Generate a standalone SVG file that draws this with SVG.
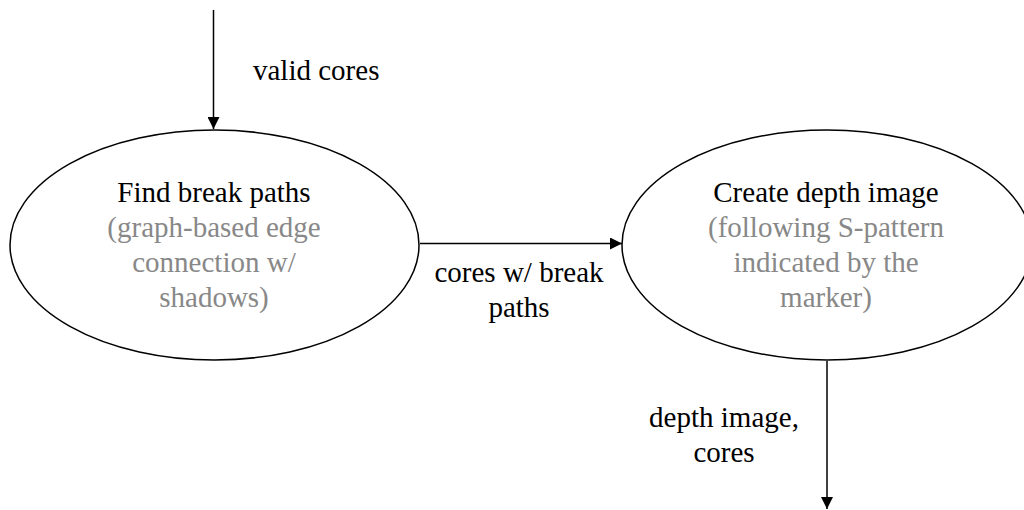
<svg xmlns="http://www.w3.org/2000/svg" width="1024" height="510" viewBox="0 0 1024 510">
<defs>
<marker id="ah" markerWidth="12" markerHeight="12" refX="12" refY="6" orient="auto" markerUnits="userSpaceOnUse">
<path d="M0,0 L12,6 L0,12 Z" fill="#000"/>
</marker>
<style>
.t{font-family:'Liberation Serif','Times New Roman',Times,'DejaVu Serif',serif;font-size:29px;fill:#000;text-anchor:middle}
.g{fill:#888}
.n{fill:#fff;stroke:#000;stroke-width:1.5}
.c{stroke:#000;stroke-width:1.5;fill:none;marker-end:url(#ah)}
</style>
</defs>
<rect width="1024" height="510" fill="#fff"/>
<g id="connectors">
<line class="c" x1="213.5" y1="10" x2="213.5" y2="129"/>
<line class="c" x1="420" y1="243.5" x2="622" y2="243.5"/>
<line class="c" x1="827" y1="361" x2="827" y2="509"/>
<text class="t" x="253" y="80" style="text-anchor:start">valid cores</text>
<text class="t" x="519" y="282">cores w/ break</text>
<text class="t" x="519" y="317">paths</text>
<text class="t" x="724" y="427">depth image,</text>
<text class="t" x="724" y="462">cores</text>
</g>
<g id="find">
<ellipse class="n" cx="214.5" cy="245" rx="204.5" ry="115"/>
<text class="t" x="214" y="202">Find break paths</text>
<text class="t g" x="214" y="237">(graph-based edge</text>
<text class="t g" x="214" y="272">connection w/</text>
<text class="t g" x="214" y="307">shadows)</text>
</g>
<g id="create">
<ellipse class="n" cx="827" cy="245" rx="205" ry="115"/>
<text class="t" x="826" y="202">Create depth image</text>
<text class="t g" x="826" y="237">(following S-pattern</text>
<text class="t g" x="826" y="272">indicated by the</text>
<text class="t g" x="826" y="307">marker)</text>
</g>
</svg>
